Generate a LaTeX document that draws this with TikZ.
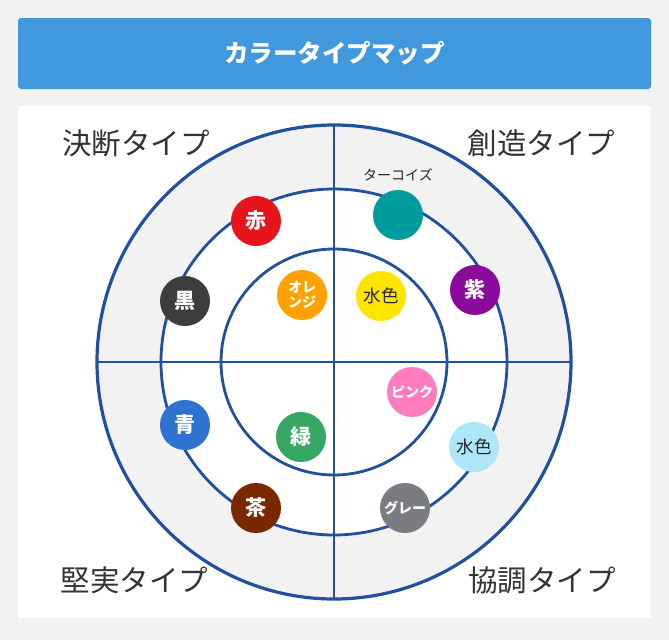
\documentclass[tikz,border=0pt]{standalone}
\usepackage{fontspec}
\setmainfont{Noto Sans CJK JP}
\definecolor{bg}{HTML}{F2F2F2}
\definecolor{titlebar}{HTML}{4298DD}
\definecolor{ring}{HTML}{21509F}
\definecolor{labelc}{HTML}{333333}
\definecolor{cRed}{HTML}{E8141B}
\definecolor{cTeal}{HTML}{009C9C}
\definecolor{cPurple}{HTML}{8A0A9B}
\definecolor{cBlack}{HTML}{3D3D3D}
\definecolor{cOrange}{HTML}{FFA100}
\definecolor{cYellow}{HTML}{FFE400}
\definecolor{cPink}{HTML}{FF7DBF}
\definecolor{cSky}{HTML}{AEE6FA}
\definecolor{cBlue}{HTML}{2F73D0}
\definecolor{cGreen}{HTML}{36A665}
\definecolor{cBrown}{HTML}{7A2800}
\definecolor{cGray}{HTML}{7B7B82}
\begin{document}
\begin{tikzpicture}[x=1pt,y=-1pt,
  dot/.style={circle,minimum size=50pt,inner sep=0pt,text=white,font=\fontsize{21}{21}\selectfont\bfseries},
  dotdark/.style={dot,text=black!85,font=\fontsize{17.5}{17.5}\selectfont},
  dotsmall/.style={dot,font=\fontsize{14}{15.5}\selectfont\bfseries,align=center},
  quad/.style={text=labelc,font=\fontsize{29.5}{29.5}\selectfont},
  ringline/.style={draw=ring,line width=2.8pt}]
\fill[bg] (0,0) rectangle (669,640);
\fill[titlebar,rounded corners=3pt] (18,18) rectangle (651,89);
\node[text=white,font=\fontsize{24.5}{24.5}\selectfont\bfseries] (title) at (334.5,53.5) {カラータイプマップ};
\fill[white] (18,106) rectangle (651,618);
\coordinate (c) at (334,362);
\fill[bg] (c) circle[radius=237];
\fill[white] (c) circle[radius=173];
\draw[ringline,line width=3.2pt] (c) circle[radius=237];
\draw[ringline] (c) circle[radius=173];
\draw[ringline] (c) circle[radius=113];
\draw[ringline] (97,362) -- (571,362);
\draw[ringline] (334,125) -- (334,599);
\node[quad] (q1) at (136,143) {決断タイプ};
\node[quad] (q2) at (541.5,143) {創造タイプ};
\node[quad] (q3) at (134.5,580) {堅実タイプ};
\node[quad] (q4) at (542,580) {協調タイプ};
\node[dot,fill=cRed] (red) at (256,221) {赤};
\node[dot,fill=cTeal] (teal) at (398,215) {};
\node[text=black!85,font=\fontsize{14}{14}\selectfont] (teallab) at (398,175) {ターコイズ};
\node[dot,fill=cPurple] (purple) at (475,290) {紫};
\node[dot,fill=cBlack] (black) at (185,301) {黒};
\node[dotsmall,fill=cOrange] (orange) at (302,295) {オレ\\ンジ};
\node[dotdark,fill=cYellow] (yellow) at (381,296) {水色};
\node[dotsmall,fill=cPink] (pink) at (412,392) {ピンク};
\node[dotdark,fill=cSky] (sky) at (474,447) {水色};
\node[dot,fill=cBlue] (blue) at (185,425) {青};
\node[dot,fill=cGreen] (green) at (301,437) {緑};
\node[dot,fill=cBrown] (brown) at (256,508) {茶};
\node[dotsmall,fill=cGray] (gray) at (405,508) {グレー};
\end{tikzpicture}
\end{document}
